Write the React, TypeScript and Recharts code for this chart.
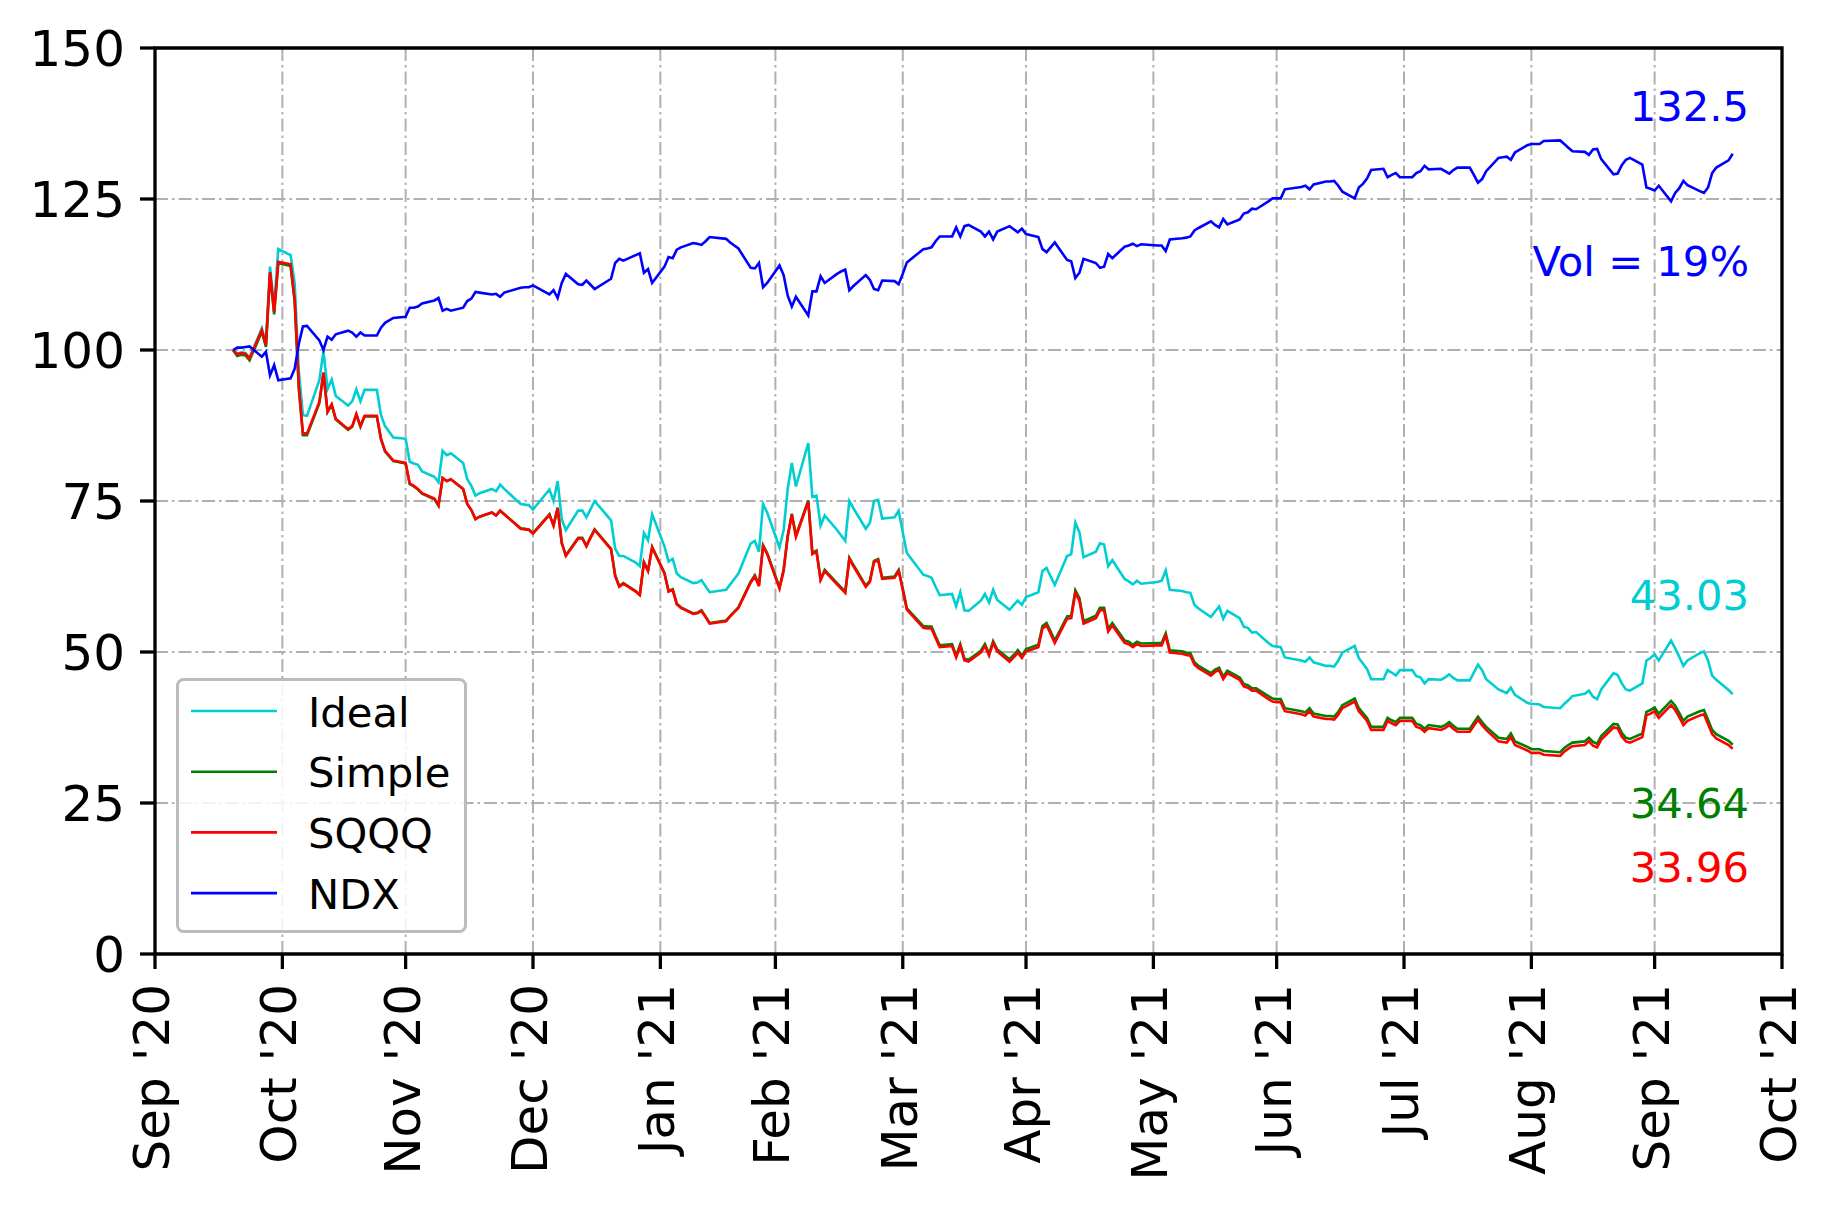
import { CartesianGrid, Legend, Line, LineChart, ReferenceArea, XAxis, YAxis } from "recharts";

// trading days, Oct 2020 - Oct 2021
const dates = [
  "2020-10-19", "2020-10-20", "2020-10-21", "2020-10-22", "2020-10-23", "2020-10-26", "2020-10-27", "2020-10-28", "2020-10-29", "2020-10-30",
  "2020-11-02", "2020-11-03", "2020-11-04", "2020-11-05", "2020-11-06", "2020-11-09", "2020-11-10", "2020-11-11", "2020-11-12", "2020-11-13",
  "2020-11-16", "2020-11-17", "2020-11-18", "2020-11-19", "2020-11-20", "2020-11-23", "2020-11-24", "2020-11-25", "2020-11-27", "2020-11-30",
  "2020-12-01", "2020-12-02", "2020-12-03", "2020-12-04", "2020-12-07", "2020-12-08", "2020-12-09", "2020-12-10", "2020-12-11", "2020-12-14",
  "2020-12-15", "2020-12-16", "2020-12-17", "2020-12-18", "2020-12-21", "2020-12-22", "2020-12-23", "2020-12-24", "2020-12-28", "2020-12-29",
  "2020-12-30", "2020-12-31",
  "2021-01-04", "2021-01-05", "2021-01-06", "2021-01-07", "2021-01-08", "2021-01-11", "2021-01-12", "2021-01-13", "2021-01-14", "2021-01-15",
  "2021-01-19", "2021-01-20", "2021-01-21", "2021-01-22", "2021-01-25", "2021-01-26", "2021-01-27", "2021-01-28", "2021-01-29",
  "2021-02-01", "2021-02-02", "2021-02-03", "2021-02-04", "2021-02-05", "2021-02-08", "2021-02-09", "2021-02-10", "2021-02-11", "2021-02-12",
  "2021-02-16", "2021-02-17", "2021-02-18", "2021-02-19", "2021-02-22", "2021-02-23", "2021-02-24", "2021-02-25", "2021-02-26",
  "2021-03-01", "2021-03-02", "2021-03-03", "2021-03-04", "2021-03-05", "2021-03-08", "2021-03-09", "2021-03-10", "2021-03-11", "2021-03-12",
  "2021-03-15", "2021-03-16", "2021-03-17", "2021-03-18", "2021-03-19", "2021-03-22", "2021-03-23", "2021-03-24", "2021-03-25", "2021-03-26",
  "2021-03-29", "2021-03-30", "2021-03-31",
  "2021-04-01", "2021-04-05", "2021-04-06", "2021-04-07", "2021-04-08", "2021-04-09", "2021-04-12", "2021-04-13", "2021-04-14", "2021-04-15",
  "2021-04-16", "2021-04-19", "2021-04-20", "2021-04-21", "2021-04-22", "2021-04-23", "2021-04-26", "2021-04-27", "2021-04-28", "2021-04-29",
  "2021-04-30",
  "2021-05-03", "2021-05-04", "2021-05-05", "2021-05-06", "2021-05-07", "2021-05-10", "2021-05-11", "2021-05-12", "2021-05-13", "2021-05-14",
  "2021-05-17", "2021-05-18", "2021-05-19", "2021-05-20", "2021-05-21", "2021-05-24", "2021-05-25", "2021-05-26", "2021-05-27", "2021-05-28",
  "2021-06-01", "2021-06-02", "2021-06-03", "2021-06-04", "2021-06-07", "2021-06-08", "2021-06-09", "2021-06-10", "2021-06-11", "2021-06-14",
  "2021-06-15", "2021-06-16", "2021-06-17", "2021-06-18", "2021-06-21", "2021-06-22", "2021-06-23", "2021-06-24", "2021-06-25", "2021-06-28",
  "2021-06-29", "2021-06-30",
  "2021-07-01", "2021-07-02", "2021-07-06", "2021-07-07", "2021-07-08", "2021-07-09", "2021-07-12", "2021-07-13", "2021-07-14", "2021-07-15",
  "2021-07-16", "2021-07-19", "2021-07-20", "2021-07-21", "2021-07-22", "2021-07-23", "2021-07-26", "2021-07-27", "2021-07-28", "2021-07-29",
  "2021-07-30",
  "2021-08-02", "2021-08-03", "2021-08-04", "2021-08-05", "2021-08-06", "2021-08-09", "2021-08-10", "2021-08-11", "2021-08-12", "2021-08-13",
  "2021-08-16", "2021-08-17", "2021-08-18", "2021-08-19", "2021-08-20", "2021-08-23", "2021-08-24", "2021-08-25", "2021-08-26", "2021-08-27",
  "2021-08-30", "2021-08-31",
  "2021-09-01", "2021-09-02", "2021-09-03", "2021-09-07", "2021-09-08", "2021-09-09", "2021-09-10", "2021-09-13", "2021-09-14", "2021-09-15",
  "2021-09-16", "2021-09-17", "2021-09-20", "2021-09-21", "2021-09-22", "2021-09-23", "2021-09-24", "2021-09-27", "2021-09-28", "2021-09-29",
  "2021-09-30",
  "2021-10-01", "2021-10-04", "2021-10-05", "2021-10-06", "2021-10-07", "2021-10-08", "2021-10-11", "2021-10-12", "2021-10-13", "2021-10-14",
  "2021-10-15", "2021-10-18", "2021-10-19",
];

const ndx = [
  100, 100.4, 100.4, 100.5, 100.6, 98.9, 99.7, 95.8, 97.5, 95.0,
  95.3, 96.9, 101.0, 103.9, 104.0, 101.6, 100.0, 102.2, 101.7, 102.6,
  103.2, 102.9, 102.2, 102.9, 102.4, 102.4, 103.7, 104.5, 105.3, 105.5,
  107.0, 107.0, 107.2, 107.7, 108.2, 108.6, 106.5, 106.8, 106.5, 107.0,
  108.1, 108.5, 109.6, 109.5, 109.2, 109.3, 108.8, 109.5, 110.3, 110.4,
  110.4, 110.7,
  109.2, 109.9, 108.6, 111.1, 112.6, 110.9, 110.8, 111.5, 110.8, 110.1,
  111.8, 114.4, 115.1, 114.8, 115.7, 116.0, 112.8, 113.4, 111.1,
  113.8, 115.4, 115.2, 116.6, 117.0, 117.7, 117.6, 117.4, 118.0, 118.7,
  118.4, 117.8, 117.3, 116.8, 113.6, 113.5, 114.4, 110.4, 111.1,
  114.0, 112.4, 109.0, 107.2, 108.8, 105.7, 109.7, 109.7, 112.2, 111.1,
  112.6, 113.0, 113.3, 109.9, 110.6, 112.4, 111.6, 110.1, 109.9, 111.5,
  111.4, 110.9, 112.6,
  114.5, 116.7, 116.8, 117.0, 118.0, 118.8, 118.8, 120.3, 118.8, 120.5,
  120.7, 119.6, 118.8, 119.6, 118.3, 119.6, 120.5, 120.0, 119.5, 120.1,
  119.2,
  118.7, 116.7, 116.2, 117.0, 117.8, 114.9, 114.7, 111.9, 112.8, 115.1,
  114.4, 113.6, 113.8, 115.9, 115.2, 117.1, 117.3, 117.6, 117.2, 117.5,
  117.3, 117.3, 116.4, 118.3, 118.5, 118.6, 118.8, 119.8, 120.2, 121.3,
  120.7, 120.3, 121.7, 120.8, 121.6, 122.6, 122.8, 123.4, 123.3, 124.6,
  125.1, 125.1,
  125.1, 126.6, 127.0, 127.2, 126.6, 127.4, 127.9, 127.9, 128.0, 127.2,
  126.2, 125.1, 126.9, 127.5, 128.4, 129.8, 130.0, 128.6, 129.0, 129.3,
  128.6,
  128.6, 129.3, 129.6, 130.5, 129.9, 130.0, 129.6, 129.2, 129.8, 130.2,
  130.2, 129.0, 127.7, 128.3, 129.6, 131.8, 131.9, 132.0, 131.5, 132.7,
  133.9, 134.1,
  134.1, 134.1, 134.6, 134.7, 134.1, 133.5, 132.9, 132.8, 132.3, 133.2,
  133.3, 131.6, 129.1, 129.2, 130.6, 131.5, 131.8, 130.7, 126.9, 126.7,
  126.4,
  127.2, 124.6, 126.0, 126.8, 128.0, 127.3, 126.3, 126.0, 126.9, 129.3,
  130.2, 131.4, 132.5,
];

const sqqq = [
  100, 99.3, 99.5, 99.4, 98.6, 103.3, 100.8, 112.9, 106.3, 114.6,
  114.2, 108.3, 94.0, 86.2, 86.2, 91.4, 96.3, 89.8, 91.0, 88.6,
  86.9, 87.4, 89.4, 87.4, 89.1, 89.1, 85.3, 83.3, 81.7, 81.3,
  77.9, 77.5, 77.0, 76.3, 75.4, 74.3, 78.8, 78.3, 78.6, 77.0,
  74.5, 73.5, 72.0, 72.4, 73.1, 72.6, 73.4, 72.8, 70.4, 70.3,
  70.2, 69.6,
  72.7, 70.9, 73.8, 68.0, 65.9, 68.8, 68.8, 67.5, 68.9, 70.2,
  67.0, 62.6, 60.8, 61.3, 60.0, 59.4, 64.8, 63.4, 67.3,
  63.0, 60.0, 60.3, 57.9, 57.3, 56.3, 56.4, 56.8, 55.8, 54.7,
  55.1, 55.9, 56.6, 57.3, 61.5, 62.5, 60.9, 67.5, 66.2,
  60.5, 63.4, 69.1, 72.7, 69.1, 74.9, 66.2, 66.6, 61.9, 63.4,
  61.2, 60.5, 59.8, 65.4, 64.2, 60.8, 61.6, 64.9, 65.2, 62.1,
  62.3, 63.4, 60.3,
  57.0, 54.0, 53.9, 53.9, 52.3, 50.8, 51.0, 49.1, 51.0, 48.6,
  48.4, 49.9, 51.0, 49.4, 51.5, 50.1, 48.4, 49.1, 49.9, 49.0,
  50.1,
  50.8, 53.9, 54.4, 53.0, 51.5, 55.5, 55.6, 59.8, 58.5, 54.7,
  55.6, 56.9, 56.9, 53.4, 54.4, 51.5, 51.3, 50.8, 51.3, 51.0,
  51.1, 51.1, 52.7, 49.9, 49.7, 49.5, 49.4, 47.9, 47.3, 46.1,
  46.7, 47.0, 45.5, 46.5, 45.4, 44.3, 44.1, 43.6, 43.6, 42.2,
  41.8, 41.7,
  41.7, 40.2, 39.7, 39.5, 40.2, 39.3, 38.9, 38.9, 38.8, 39.6,
  40.7, 41.8, 40.2, 39.4, 38.6, 37.1, 37.1, 38.6, 38.2, 37.9,
  38.6,
  38.6, 37.6, 37.4, 36.8, 37.4, 37.1, 37.4, 37.9, 37.3, 36.8,
  36.8, 37.8, 38.8, 37.9, 37.1, 35.2, 35.1, 35.0, 35.9, 34.6,
  33.7, 33.3,
  33.3, 33.3, 33.0, 32.8, 33.5, 34.0, 34.4, 34.6, 35.2, 34.5,
  34.2, 35.5, 37.5, 37.4, 36.0, 35.2, 35.0, 35.9, 39.5, 39.8,
  40.2,
  39.1, 41.2, 40.4, 39.2, 37.9, 38.6, 39.5, 39.7, 38.1, 36.4,
  35.7, 34.6, 33.96,
];

const ideal = [
  100, 99.4, 99.6, 99.5, 98.7, 103.6, 101.1, 113.8, 107.2, 116.7,
  115.7, 111.0, 96.5, 89.2, 89.1, 95.0, 99.8, 93.5, 95.1, 92.4,
  90.8, 91.5, 93.5, 91.5, 93.4, 93.4, 89.2, 87.4, 85.5, 85.3,
  81.5, 81.2, 81.0, 79.9, 79.0, 78.1, 83.3, 82.6, 82.9, 81.3,
  78.6, 77.5, 75.9, 76.3, 77.0, 76.6, 77.7, 77.0, 74.5, 74.4,
  74.3, 73.6,
  76.9, 75.0, 78.3, 72.0, 70.2, 73.4, 73.4, 72.3, 73.6, 75.0,
  71.8, 67.1, 65.9, 65.9, 64.8, 64.2, 69.7, 68.5, 72.8,
  67.5, 65.0, 65.4, 63.0, 62.4, 61.4, 61.5, 61.9, 60.9, 59.9,
  60.3, 61.2, 62.1, 63.0, 68.0, 68.4, 66.6, 74.5, 73.1,
  67.3, 70.2, 77.0, 81.3, 77.4, 84.6, 75.7, 75.9, 70.9, 72.6,
  70.2, 69.3, 68.4, 75.0, 73.8, 70.4, 71.4, 75.0, 75.2, 72.1,
  72.3, 73.4, 69.8,
  66.4, 62.8, 62.6, 62.3, 60.8, 59.4, 59.6, 57.6, 59.9, 56.9,
  56.8, 58.5, 59.6, 58.2, 60.3, 58.6, 57.0, 57.8, 58.5, 57.8,
  59.1,
  59.9, 63.4, 63.9, 62.5, 61.1, 65.9, 66.2, 71.4, 69.8, 65.7,
  66.6, 68.0, 67.8, 64.2, 65.2, 62.1, 61.7, 61.2, 61.8, 61.3,
  61.6, 61.8, 63.5, 60.3, 60.1, 59.9, 59.8, 57.8, 57.2, 55.8,
  56.7, 57.5, 55.5, 56.8, 55.6, 54.2, 54.0, 53.2, 53.3, 51.5,
  51.0, 50.9,
  50.8, 49.1, 48.6, 48.4, 49.1, 48.3, 47.7, 47.7, 47.6, 48.6,
  49.9, 51.0, 49.0, 48.1, 47.2, 45.5, 45.5, 47.0, 46.6, 46.1,
  47.0,
  47.0, 46.0, 45.8, 44.8, 45.5, 45.4, 45.8, 46.3, 45.7, 45.3,
  45.3, 46.6, 47.9, 47.0, 45.5, 43.8, 43.5, 43.2, 44.1, 42.9,
  41.6, 41.4,
  41.4, 41.3, 40.9, 40.7, 41.4, 42.0, 42.7, 43.1, 43.6, 42.6,
  42.2, 43.8, 46.5, 46.2, 44.8, 43.8, 43.6, 44.8, 48.6, 49.0,
  49.6,
  48.6, 51.9, 50.6, 49.2, 47.7, 48.6, 49.8, 50.1, 48.6, 46.1,
  45.4, 43.7, 43.03,
];

const simple = [
  100, 99.0, 99.2, 99.1, 98.3, 103.0, 100.5, 112.6, 105.9, 114.4,
  113.9, 108.0, 93.7, 85.9, 85.9, 91.2, 96.1, 89.7, 90.9, 88.5,
  86.8, 87.3, 89.3, 87.3, 89.0, 89.0, 85.2, 83.2, 81.6, 81.2,
  77.8, 77.4, 76.9, 76.2, 75.3, 74.2, 78.8, 78.3, 78.6, 77.0,
  74.5, 73.5, 72.0, 72.4, 73.1, 72.6, 73.4, 72.8, 70.5, 70.4,
  70.3, 69.7,
  72.8, 71.0, 73.9, 68.1, 66.0, 68.9, 68.9, 67.6, 69.0, 70.3,
  67.1, 62.7, 60.9, 61.4, 60.1, 59.5, 64.9, 63.5, 67.4,
  63.1, 60.1, 60.4, 58.0, 57.4, 56.4, 56.5, 56.9, 55.9, 54.8,
  55.2, 56.0, 56.7, 57.4, 61.7, 62.7, 61.1, 67.7, 66.4,
  60.7, 63.6, 69.3, 72.9, 69.3, 75.1, 66.4, 66.8, 62.1, 63.6,
  61.4, 60.7, 60.0, 65.6, 64.4, 61.0, 61.8, 65.1, 65.4, 62.3,
  62.5, 63.6, 60.5,
  57.2, 54.3, 54.2, 54.2, 52.6, 51.1, 51.3, 49.4, 51.3, 48.9,
  48.7, 50.2, 51.3, 49.7, 51.8, 50.4, 48.8, 49.5, 50.3, 49.4,
  50.5,
  51.2, 54.3, 54.8, 53.4, 51.9, 55.9, 56.0, 60.2, 58.9, 55.1,
  56.0, 57.3, 57.3, 53.8, 54.8, 51.9, 51.7, 51.2, 51.7, 51.4,
  51.5, 51.5, 53.1, 50.3, 50.1, 49.9, 49.8, 48.3, 47.7, 46.5,
  47.1, 47.4, 45.9, 46.9, 45.8, 44.7, 44.5, 44.0, 44.0, 42.7,
  42.3, 42.2,
  42.2, 40.7, 40.2, 40.0, 40.7, 39.8, 39.4, 39.4, 39.3, 40.1,
  41.2, 42.3, 40.7, 39.9, 39.1, 37.6, 37.6, 39.1, 38.7, 38.4,
  39.1,
  39.1, 38.1, 37.9, 37.3, 37.9, 37.6, 37.9, 38.4, 37.8, 37.3,
  37.3, 38.3, 39.3, 38.4, 37.6, 35.8, 35.7, 35.6, 36.5, 35.2,
  34.3, 33.9,
  33.9, 33.9, 33.6, 33.4, 34.1, 34.6, 35.0, 35.2, 35.8, 35.1,
  34.8, 36.1, 38.1, 38.0, 36.6, 35.8, 35.6, 36.5, 40.1, 40.4,
  40.8,
  39.8, 41.9, 41.1, 39.9, 38.6, 39.3, 40.2, 40.4, 38.8, 37.1,
  36.4, 35.3, 34.64,
];

// month-end ticks, labelled by month
const monthEnds = [
  "2020-09-30", "2020-10-31", "2020-11-30", "2020-12-31", "2021-01-31", "2021-02-28", "2021-03-31",
  "2021-04-30", "2021-05-31", "2021-06-30", "2021-07-31", "2021-08-31", "2021-09-30", "2021-10-31",
];
const monthLabels = [
  "Sep '20", "Oct '20", "Nov '20", "Dec '20", "Jan '21", "Feb '21", "Mar '21",
  "Apr '21", "May '21", "Jun '21", "Jul '21", "Aug '21", "Sep '21", "Oct '21",
];
const yTicks = [0, 25, 50, 75, 100, 125, 150];

const series = [
  { key: "ideal", name: "Ideal", color: "#00CED1" },
  { key: "simple", name: "Simple", color: "#008000" },
  { key: "sqqq", name: "SQQQ", color: "#FF0000" },
  { key: "ndx", name: "NDX", color: "#0000FF" },
];

const FONT = "DejaVu Sans";
const W = 1836;
const H = 1210;
const LW = 2.6;

const toDay = (s: string) => {
  const [y, m, d] = s.split("-").map(Number);
  return Date.UTC(y, m - 1, d) / 86400000;
};

const data = dates.map((d, i) => ({
  t: toDay(d),
  ideal: ideal[i],
  simple: simple[i],
  sqqq: sqqq[i],
  ndx: ndx[i],
}));

const xTicks = monthEnds.map(toDay);
const xMin = xTicks[0];
const xMax = xTicks[xTicks.length - 1];

function MonthTick(props: any) {
  const { x, y, payload } = props;
  const i = xTicks.indexOf(payload.value);
  return (
    <text
      x={x}
      y={y}
      transform={`rotate(-90, ${x}, ${y})`}
      textAnchor="end"
      dy="0.28em"
      fontSize={50}
      fontFamily={FONT}
      fill="#000"
    >
      {monthLabels[i]}
    </text>
  );
}

function LegendBox() {
  return (
    <svg width={291} height={255} style={{ display: "block" }}>
      <rect x={1.5} y={1.5} width={288} height={252} rx={6} fill="#fff" fillOpacity={0.85} stroke="#bcbcbc" strokeWidth={3} />
      {series.map((s, i) => (
        <g key={s.key}>
          <line x1={15} x2={101} y1={33 + i * 60.7} y2={33 + i * 60.7} stroke={s.color} strokeWidth={LW} />
          <text x={132} y={48.7 + i * 60.7} fontSize={41.7} fontFamily={FONT} fill="#000">
            {s.name}
          </text>
        </g>
      ))}
    </svg>
  );
}

const endLabels = [
  { text: String(ndx[ndx.length - 1]), color: "#0000FF", y: 121 },
  { text: "Vol = 19%", color: "#0000FF", y: 276 },
  { text: String(ideal[ideal.length - 1]), color: "#00CED1", y: 610 },
  { text: String(simple[simple.length - 1]), color: "#008000", y: 818 },
  { text: String(sqqq[sqqq.length - 1]), color: "#FF0000", y: 882 },
];

export default function App() {
  return (
    <div style={{ position: "absolute", left: 0, top: 0, width: W, height: H, background: "#fff", fontFamily: FONT }}>
      <LineChart width={W} height={H} data={data} margin={{ top: 48, right: 54, bottom: 0, left: 0 }}>
        <CartesianGrid stroke="#b0b0b0" strokeWidth={2} strokeDasharray="13 4 2.5 4" />
        <XAxis
          dataKey="t"
          type="number"
          domain={[xMin, xMax]}
          ticks={xTicks}
          interval={0}
          height={256}
          axisLine={false}
          tickLine={{ stroke: "#000", strokeWidth: 3.3 }}
          tickSize={15}
          tickMargin={15}
          tick={<MonthTick />}
          allowDataOverflow
        />
        <YAxis
          type="number"
          domain={[0, 150]}
          ticks={yTicks}
          interval={0}
          width={155}
          axisLine={false}
          tickLine={{ stroke: "#000", strokeWidth: 3.3 }}
          tickSize={15}
          tickMargin={15}
          tick={{ fontSize: 50, fill: "#000", fontFamily: FONT }}
        />
        {series.map((s) => (
          <Line
            key={s.key}
            type="linear"
            dataKey={s.key}
            name={s.name}
            stroke={s.color}
            strokeWidth={LW}
            dot={false}
            activeDot={false}
            isAnimationActive={false}
          />
        ))}
        <ReferenceArea
          x1={xMin}
          x2={xMax}
          y1={0}
          y2={150}
          fill="none"
          fillOpacity={0}
          stroke="#000"
          strokeWidth={3.3}
          ifOverflow="visible"
        />
        <Legend
          layout="vertical"
          align="center"
          verticalAlign="middle"
          wrapperStyle={{ left: 176, top: 678, width: 291, height: 255 }}
          content={() => <LegendBox />}
        />
      </LineChart>
      <svg width={W} height={H} style={{ position: "absolute", left: 0, top: 0, pointerEvents: "none" }}>
        {endLabels.map((l) => (
          <text key={l.text} x={1749} y={l.y} textAnchor="end" fontSize={41.7} fontFamily={FONT} fill={l.color}>
            {l.text}
          </text>
        ))}
      </svg>
    </div>
  );
}
